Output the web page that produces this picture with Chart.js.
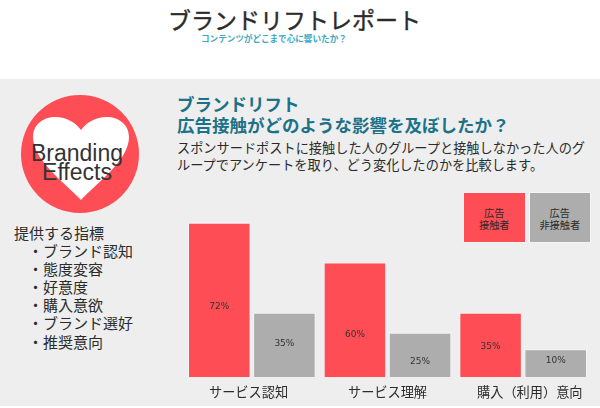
<!DOCTYPE html>
<html lang="ja">
<head>
<meta charset="utf-8">
<title>ブランドリフトレポート</title>
<script src="https://cdn.jsdelivr.net/npm/chart.js@4/dist/chart.umd.min.js"></script>
<style>
    html, body { margin: 0; padding: 0; background: #fff; }
    body { position: relative; width: 600px; height: 408px; overflow: hidden; font-family: "Noto Sans CJK JP", sans-serif; color: #2b2b2b; }
    .txt { position: absolute; white-space: nowrap; }
    #band { position: absolute; left: 0; top: 79px; width: 600px; height: 327px; background: #eeeeee; }
    #title { left: 168px; top: 1px; font-size: 23px; line-height: 36px; font-weight: 400; -webkit-text-stroke: 0.4px #2b2b2b; }
    #subtitle { left: 201px; top: 31px; font-size: 8.6px; line-height: 14px; font-weight: 700; color: #3ba9c6; }
    #heading { left: 177px; top: 92.5px; font-size: 17.5px; line-height: 21px; font-weight: 700; color: #1c7288; }
    #body { left: 177px; top: 138.5px; font-size: 13.2px; line-height: 17px; }
    #badge { position: absolute; left: 20px; top: 94px; }
    #brand { left: -3px; top: 144px; width: 160px; text-align: center; font-family: "Liberation Sans", sans-serif; font-size: 23px; line-height: 19px; color: #333; }
    #metrics { left: 14px; top: 224px; font-size: 15px; line-height: 18.1px; }
    #metrics div { padding-left: 14px; }
    #chartBox { position: absolute; left: 184px; top: 190px; width: 407px; height: 216px; }
    .key { position: absolute; top: 192px; width: 62.5px; height: 51px; box-sizing: border-box; padding-top: 2px; border: 1px solid #f4f4f4; display: flex; align-items: center; justify-content: center; text-align: center; font-size: 10.2px; line-height: 12px; }
</style>
</head>
<body>
<div id="band"></div>
<div id="title" class="txt">ブランドリフトレポート</div>
<div id="subtitle" class="txt">コンテンツがどこまで心に響いたか？</div>
<div id="heading" class="txt">ブランドリフト<br>広告接触がどのような影響を及ぼしたか？</div>
<div id="body" class="txt">スポンサードポストに接触した人のグループと接触しなかった人のグ<br>ループでアンケートを取り、どう変化したのかを比較します。</div>

<svg id="badge" width="120" height="120" viewBox="0 0 120 120">
    <circle cx="60" cy="60" r="59" fill="#ff4d55"/>
    <path d="M61 106 C44 88 13 66 13 43 C13 30 24 23 35 23 C47 23 56 29 61 36 C66 29 75 23 87 23 C98 23 109 30 109 43 C109 66 78 88 61 106 Z" fill="#fff"/>
</svg>
<div id="brand" class="txt">Branding<br>Effects</div>
<div id="metrics" class="txt"></div>

<div id="chartBox"><canvas id="liftChart"></canvas></div>
<div id="keyExposed" class="key" style="left:463px"></div>
<div id="keyUnexposed" class="key" style="left:528.5px"></div>

<script>
// Chart data
const categories = ['サービス認知', 'サービス理解', '購入（利用）意向'];
// Printed percentages
const exposedLabels = [72, 60, 35];
const unexposedLabels = [35, 25, 10];
// The original bars are not drawn to scale with their labels, so heights are read off separately
const exposedHeights = [72, 53.5, 30];
const unexposedHeights = [30, 20.7, 12.9];
const seriesNames = ['広告\n接触者', '広告\n非接触者'];
const metricsTitle = '提供する指標';
const metricsItems = ['ブランド認知', '態度変容', '好意度', '購入意欲', 'ブランド選好', '推奨意向'];

const RED = '#ff4d55';
const GREY = '#adadad';

// Side list
document.getElementById('metrics').innerHTML =
    metricsTitle + metricsItems.map(m => `<div>・${m}</div>`).join('');

// Legend boxes
const keyA = document.getElementById('keyExposed');
const keyB = document.getElementById('keyUnexposed');
keyA.style.background = RED;
keyB.style.background = GREY;
keyA.innerHTML = seriesNames[0].replace('\n', '<br>');
keyB.innerHTML = seriesNames[1].replace('\n', '<br>');

// Percent labels inside the bars, moved off centre like the original
const labelShift = [[6.5, -1.5], [14.5, 6.5], [1.5, -2.5]];
const barLabels = {
    id: 'barLabels',
    afterDatasetsDraw(chart) {
        const ctx = chart.ctx;
        ctx.save();
        ctx.font = '9px "DejaVu Sans"';
        ctx.fillStyle = '#333';
        ctx.textAlign = 'center';
        ctx.textBaseline = 'middle';
        [exposedLabels, unexposedLabels].forEach((labels, ds) => {
            chart.getDatasetMeta(ds).data.forEach((bar, i) => {
                const mid = (bar.y + bar.base) / 2;
                ctx.fillText(labels[i] + '%', bar.x, mid + labelShift[i][ds]);
            });
        });
        ctx.restore();
    }
};

new Chart(document.getElementById('liftChart').getContext('2d'), {
    type: 'bar',
    data: {
        labels: categories,
        datasets: [
            { label: '広告接触者', data: exposedHeights, backgroundColor: RED, borderColor: '#f4f4f4', borderWidth: 1 },
            { label: '広告非接触者', data: unexposedHeights, backgroundColor: GREY, borderColor: '#f4f4f4', borderWidth: 1 }
        ]
    },
    options: {
        responsive: true,
        maintainAspectRatio: false,
        animation: false,
        categoryPercentage: 0.96,
        barPercentage: 0.96,
        layout: { padding: 0 },
        plugins: {
            legend: { display: false },
            tooltip: { enabled: false }
        },
        scales: {
            y: {
                display: false,
                min: 0,
                max: 87.3
            },
            x: {
                afterFit(scale) { scale.height = 29; },
                border: { display: false },
                grid: { display: false, drawTicks: false },
                ticks: {
                    maxRotation: 0,
                    padding: 7,
                    color: '#2b2b2b',
                    font: { family: '"Noto Sans CJK JP"', size: 13.2 },
                    // axis labels sit a little off the bar groups in the original
                    callback(value, index) {
                        const label = this.getLabelForValue(value);
                        if (index === 0) return label + '\u2002';
                        if (index === 2) return '\u3000' + label;
                        return label;
                    }
                }
            }
        }
    },
    plugins: [barLabels]
});
</script>
</body>
</html>
